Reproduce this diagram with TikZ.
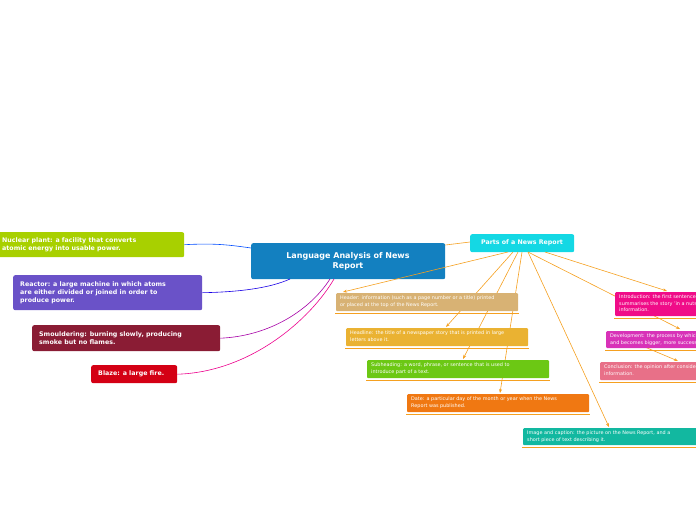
\documentclass[tikz,border=0pt]{standalone}
\usepackage{fontspec}
\setmainfont{DejaVu Sans}
\usetikzlibrary{arrows.meta,calc}
\definecolor{cMain}{HTML}{1380C0}
\definecolor{cParts}{HTML}{14D8E4}
\definecolor{cNuc}{HTML}{A8D000}
\definecolor{cRea}{HTML}{6A52C8}
\definecolor{cSmo}{HTML}{8A1C34}
\definecolor{cBla}{HTML}{D40014}
\definecolor{cHea}{HTML}{D8B274}
\definecolor{cHdl}{HTML}{EAB232}
\definecolor{cSub}{HTML}{6CC814}
\definecolor{cDat}{HTML}{F07812}
\definecolor{cImg}{HTML}{12B8A0}
\definecolor{cInt}{HTML}{F00C88}
\definecolor{cDev}{HTML}{D832B8}
\definecolor{cCon}{HTML}{E87088}
\definecolor{cOr}{HTML}{F5A020}
\tikzset{
 box/.style={anchor=north west,rounded corners=2pt,inner sep=0pt,text=white,align=left},
 sbox/.style={anchor=north west,rounded corners=1pt,inner sep=0pt},
 con/.style={cOr,line width=0.6pt,-{Stealth[length=4pt,width=3pt]}},
 ul/.style={cOr,line width=1.6pt},
 btxt/.style={anchor=west,text=white,align=left,font=\fontsize{6.3}{8.2}\selectfont\bfseries,inner sep=0pt},
 stxt/.style={anchor=north west,text=white,align=left,font=\fontsize{4.9}{6.3}\selectfont,inner sep=0pt}
}
\newcommand{\rbox}[7]{%
 \node[sbox,fill=#2,minimum width=#5pt,minimum height=#6pt] (#1) at (#3,#4) {};
 \draw[ul] ($(#1.south west)+(-1,2)$) -- ($(#1.south east)+(1,2)$);
 \node[stxt] at (#3+4,#4+3) {#7};}
\begin{document}
\begin{tikzpicture}[x=1pt,y=-1pt]
\useasboundingbox (0,0) rectangle (696,520);
\clip (0,0) rectangle (696,520);
% main
\node[box,fill=cMain,minimum width=194pt,minimum height=36pt] (main) at (251,243) {};
\node[text=white,align=center,font=\fontsize{8}{10}\selectfont\bfseries] at (348,261) {Language Analysis of News\\Report};
\node[box,fill=cParts,minimum width=104pt,minimum height=18pt] (parts) at (470,234) {};
\node[text=white,font=\fontsize{6.3}{8}\selectfont\bfseries] at (522,243) {Parts of a News Report};
% left boxes
\node[box,fill=cNuc,minimum width=190pt,minimum height=25pt] (nuc) at (-6,232) {};
\node[btxt] at (2,244.5) {Nuclear plant: a facility that converts\\atomic energy into usable power.};
\node[box,fill=cRea,minimum width=189pt,minimum height=35pt] (rea) at (13,275) {};
\node[btxt] at (20,292.5) {Reactor: a large machine in which atoms\\are either divided or joined in order to\\produce power.};
\node[box,fill=cSmo,minimum width=188pt,minimum height=26pt] (smo) at (32,325) {};
\node[btxt] at (39,338) {Smouldering: burning slowly, producing\\smoke but no flames.};
\node[box,fill=cBla,minimum width=86pt,minimum height=18pt] (bla) at (91,365) {};
\node[btxt] at (98,374) {Blaze: a large fire.};
% left connectors
\draw[blue!70!cyan,line width=0.6pt] (nuc.east) .. controls (215,243) and (230,245) .. (main.west |- 0,248);
\draw[blue!80!violet,line width=0.6pt] (rea.east) .. controls (240,292) and (270,288) .. (290,279);
\draw[violet!70!magenta,line width=0.6pt] (smo.east) .. controls (270,336) and (310,310) .. (330,279);
\draw[magenta,line width=0.6pt] (bla.east) .. controls (250,372) and (310,320) .. (334,279);
\draw[cOr,line width=0.6pt] (main.east |- 0,245) -- (parts.west |- 0,242);
% right connectors (behind boxes)
\coordinate (p1) at (508,252);
\coordinate (p2) at (513,252);
\coordinate (p3) at (518,252);
\coordinate (p4) at (522,252);
\coordinate (p5) at (528,252);
\coordinate (p6) at (545,252);
\draw[con] (p1) -- (343,292);
\draw[con] (p2) -- (446,327);
\draw[con] (p3) -- (463,359);
\draw[con] (p4) -- (500,393);
\draw[con] (p5) -- (609,427);
\draw[con] (p6) -- (667,291);
\draw[con] (p5) -- (680,329);
\draw[con] (640,345) -- (678,361);
% right boxes
\rbox{hea}{cHea}{336}{293}{182}{18}{Header: information (such as a page number or a title) printed\\or placed at the top of the News Report.}
\rbox{hdl}{cHdl}{346}{328}{182}{18}{Headline: the title of a newspaper story that is printed in large\\letters above it.}
\rbox{sub}{cSub}{367}{360}{182}{18}{Subheading: a word, phrase, or sentence that is used to\\introduce part of a text.}
\rbox{dat}{cDat}{407}{394}{182}{18}{Date: a particular day of the month or year when the News\\Report was published.}
\rbox{img}{cImg}{523}{428}{182}{17}{Image and caption: the picture on the News Report, and a\\short piece of text describing it.}
\rbox{int}{cInt}{615}{292}{182}{24}{Introduction: the first sentence\\summarises the story 'in a nutshell'\\information.}
\rbox{dev}{cDev}{606}{331}{182}{17}{Development: the process by which\\and becomes bigger, more successful.}
\rbox{con}{cCon}{600}{362}{182}{18}{Conclusion: the opinion after considering\\information.}
\end{tikzpicture}
\end{document}
